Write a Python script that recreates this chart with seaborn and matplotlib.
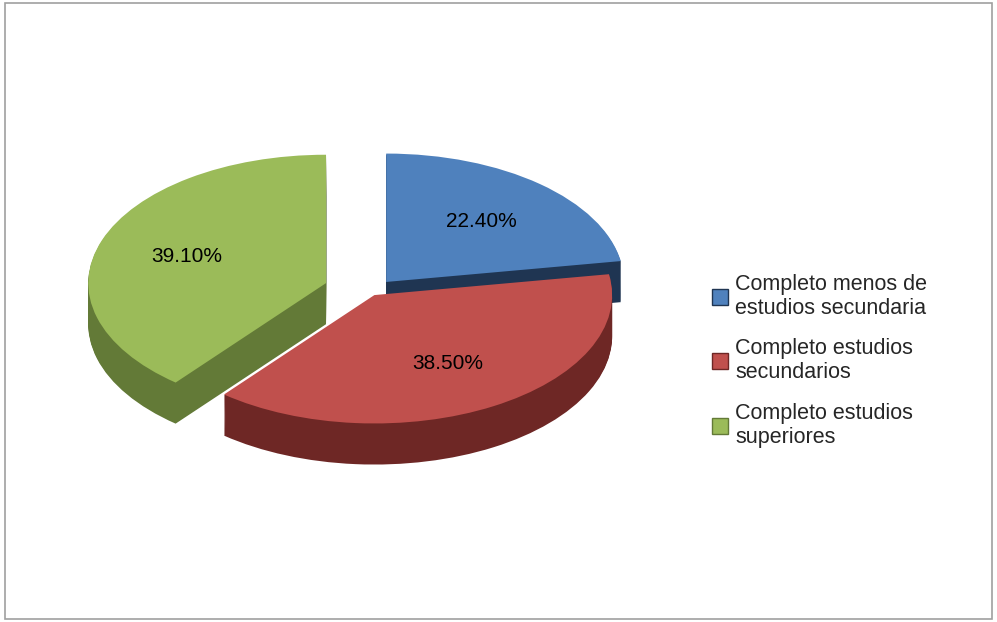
import matplotlib
matplotlib.use("Agg")
import matplotlib.pyplot as plt
import seaborn as sns
from matplotlib.patches import Rectangle
from matplotlib.lines import Line2D

sns.set_style("white")
plt.rcParams['font.family'] = ['Liberation Sans', 'DejaVu Sans']

categories = ["Completo menos de\nestudios secundaria", "Completo estudios\nsecundarios", "Completo estudios\nsuperiores"]
values = [22.4, 38.5, 39.1]
colors = ["#4F81BD", "#C0504D", "#9BBB59"]
dark = ["#1F3552", "#6E2725", "#637A37"]
explode = [0.1, 0.03, 0.2]

fig = plt.figure(figsize=(9.97, 6.22), dpi=100)
fig.patches.append(Rectangle((0.005, 0.005), 0.99, 0.99, transform=fig.transFigure,
                             fill=False, edgecolor="#A0A0A0", lw=1.2))
ax = fig.add_axes([0.05, 0.05, 0.62, 0.9])

depth = 0.32
n = 40
for i in range(n, 0, -1):
    d = depth * i / n
    ax.pie(values, colors=dark, startangle=90, counterclock=False, explode=explode,
           center=(0, -d), wedgeprops=dict(linewidth=0))
wedges, texts, autotexts = ax.pie(values, colors=colors, startangle=90, counterclock=False,
                                  explode=explode, autopct=lambda p: f"{p:.2f}%", pctdistance=0.62,
                                  wedgeprops=dict(linewidth=0), textprops=dict(fontsize=15, color="black"))
ax.set_aspect(0.54)
ax.set_xlim(-1.35, 1.25)
ax.set_ylim(-1.85, 1.55)

handles = [Line2D([0], [0], marker='s', color='w', markerfacecolor=c, markeredgecolor=dk,
                  markersize=11, linestyle='') for c, dk in zip(colors, dark)]
fig.legend(handles, categories, loc='center left', bbox_to_anchor=(0.69, 0.42), frameon=False,
           fontsize=15.5, handletextpad=0.1, handlelength=1.2, labelspacing=0.9)
fig.savefig("out.png", dpi=100)
